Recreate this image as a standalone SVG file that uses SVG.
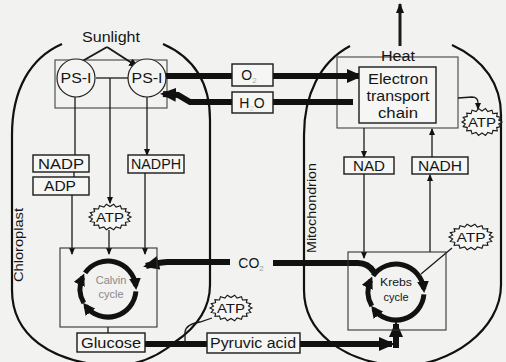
<svg xmlns="http://www.w3.org/2000/svg" width="506" height="362" viewBox="0 0 506 362">
<defs>
<style>
text{font-family:"Liberation Sans",Arial,sans-serif;fill:#151515}
.lbl{font-size:14px;text-anchor:middle}
.sm{font-size:12px;text-anchor:middle}
.box{fill:#f6f6f4;stroke:#1a1a1a;stroke-width:1.4}
.frame{fill:none;stroke:#444;stroke-width:1.1}
.thin{fill:none;stroke:#1a1a1a;stroke-width:1.3}
.thick{fill:none;stroke:#111;stroke-width:6}
.cyc{fill:none;stroke:#111;stroke-width:5}
.memb{fill:none;stroke:#111;stroke-width:2.2}
.burst{fill:#f6f6f4;stroke:#1a1a1a;stroke-width:1.1}
</style>
<marker id="big" viewBox="0 0 16 14" refX="13" refY="7" markerWidth="16" markerHeight="14" orient="auto" markerUnits="userSpaceOnUse"><path d="M0,0 L16,7 L0,14 z" fill="#111"/></marker>
<marker id="cy" viewBox="0 0 12 12" refX="8" refY="6" markerWidth="12" markerHeight="12" orient="auto" markerUnits="userSpaceOnUse"><path d="M0,0 L12,6 L0,12 z" fill="#111"/></marker>
<marker id="sa" viewBox="0 0 7 6" refX="6" refY="3" markerWidth="7" markerHeight="6" orient="auto" markerUnits="userSpaceOnUse"><path d="M0,0 L7,3 L0,6 z" fill="#111"/></marker>
<marker id="ma" viewBox="0 0 10 8" refX="9" refY="4" markerWidth="10" markerHeight="8" orient="auto" markerUnits="userSpaceOnUse"><path d="M0,0 L10,4 L0,8 z" fill="#111"/></marker>
<path id="star" d="M20,0 L16.7,1.8 L18.8,4.4 L14.7,5.3 L15.3,8.4 L10.9,8 L10,11.3 L5.8,9.9 L3.5,12.8 L0,10.5 L-3.5,12.8 L-5.8,9.9 L-10,11.3 L-10.9,8 L-15.3,8.4 L-14.7,5.3 L-18.8,4.4 L-16.7,1.8 L-20,0 L-16.7,-1.8 L-18.8,-4.4 L-14.7,-5.3 L-15.3,-8.4 L-10.9,-8 L-10,-11.3 L-5.8,-9.9 L-3.5,-12.8 L0,-10.5 L3.5,-12.8 L5.8,-9.9 L10,-11.3 L10.9,-8 L15.3,-8.4 L14.7,-5.3 L18.8,-4.4 L16.7,-1.8 Z"/>
</defs>
<rect width="506" height="362" fill="#f2f2f0"/>

<g id="chloroplast">
<path class="memb" d="M62,44 C30,58 12,90 12,135 L12,290 C12,335 50,362 110,366 C140,366 160,355 175,342 C200,325 210,305 210,285 L210,120 C210,85 195,58 163,44"/>
<text font-size="13" transform="translate(23,245) rotate(-90)" text-anchor="middle" textLength="74" lengthAdjust="spacingAndGlyphs">Chloroplast</text>
</g>
<g id="mitochondrion">
<path class="memb" d="M350,46 C320,62 304,95 304,135 L304,290 C304,330 340,362 400,366 C450,366 501,330 501,285 L501,115 C501,85 485,60 452,45"/>
<text font-size="13" transform="translate(316,208) rotate(-90)" text-anchor="middle" textLength="90" lengthAdjust="spacingAndGlyphs">Mitochondrion</text>
</g>

<g id="thylakoid"><rect class="frame" x="55" y="60" width="112" height="48"/></g>
<g id="cristae"><rect class="frame" x="337" y="57" width="121" height="71"/></g>

<g id="connectors">
<!-- sunlight -->
<path class="thin" style="stroke-width:2" d="M107,47 L72,67" marker-end="url(#ma)"/>
<path class="thin" style="stroke-width:2" d="M107,47 L138,67" marker-end="url(#ma)"/>
<!-- chloroplast thin lines -->
<path class="thin" d="M96,78 L128,78"/>
<path class="thin" d="M110,78 L110,203" marker-end="url(#sa)"/>
<path class="thin" d="M109,230 L109,254" marker-end="url(#sa)"/>
<path class="thin" d="M75,97 L75,155"/>
<path class="thin" d="M74,172 L74,177"/>
<path class="thin" d="M72,195 L72,254" marker-end="url(#sa)"/>
<path class="thin" d="M147,97 L147,155" marker-end="url(#sa)"/>
<path class="thin" d="M145,173 L145,254" marker-end="url(#sa)"/>
<path class="thin" d="M108,327 L108,333"/>
<!-- O2 / H2O -->
<path class="thick" d="M165,76 L232,76"/>
<path class="thick" d="M273,76 L360,76" marker-end="url(#big)"/>
<path class="thick" d="M273,102 L353,102"/>
<path class="thick" d="M232,102 L190,102 L178,95 L163,94" marker-end="url(#big)"/>
<!-- CO2 -->
<path class="thick" d="M230,262 L168,262 C160,262 154,264 146,266" marker-end="url(#big)"/>
<path class="thick" d="M273,263 L358,263 Q368,263 374,272"/>
<!-- glucose / pyruvic -->
<path class="thick" d="M145,344 L207,344"/>
<path class="thick" d="M300,344 L392,344" marker-end="url(#big)"/>
<path class="thick" d="M396,348 L396,324" marker-end="url(#big)"/>
<path class="thin" d="M185,344 L185,332 Q186,324 200,322 L212,318"/>
<!-- mito thin lines -->
<path class="thin" d="M364,128 L364,157" marker-end="url(#sa)"/>
<path class="thin" d="M432,157 L432,129" marker-end="url(#sa)"/>
<path class="thin" d="M364,174 L364,258" marker-end="url(#sa)"/>
<path class="thin" d="M430,252 L430,175" marker-end="url(#sa)"/>
<path class="thin" d="M458,98 L472,97 Q478,97 478,103 L478,109" marker-end="url(#sa)"/>
<path class="thin" d="M452,248 L421,274"/>
<!-- heat -->
<path class="thin" style="stroke-width:3" d="M400,46 L400,4" marker-end="url(#ma)"/>
<!-- Calvin cycle arcs -->
<path class="cyc" d="M85.1,272.9 A28,28 0 0 1 135.8,286.1" marker-end="url(#cy)"/>
<path class="cyc" d="M135.9,291.4 A28,28 0 0 1 85.6,305.9" marker-end="url(#cy)"/>
<path class="cyc" d="M83.8,303 A28,28 0 0 1 82.6,277.2" marker-end="url(#cy)"/>
<!-- Krebs cycle arcs -->
<path class="cyc" d="M373.1,275.9 A28,28 0 0 1 423.8,289.1" marker-end="url(#cy)"/>
<path class="cyc" d="M423.9,294.4 A28,28 0 0 1 373.6,308.9" marker-end="url(#cy)"/>
<path class="cyc" d="M371.8,306 A28,28 0 0 1 370.6,280.2" marker-end="url(#cy)"/>
</g>

<g id="sunlight"><text class="lbl" x="111" y="42" textLength="58" lengthAdjust="spacingAndGlyphs">Sunlight</text></g>
<g id="ps1-left"><circle cx="76" cy="78" r="19" fill="#f4f4f2" stroke="#222" stroke-width="1.2"/><text class="lbl" x="76" y="83" textLength="31" lengthAdjust="spacingAndGlyphs">PS-I</text></g>
<g id="ps1-right"><circle cx="147" cy="78" r="19" fill="#f4f4f2" stroke="#222" stroke-width="1.2"/><text class="lbl" x="147" y="83" textLength="31" lengthAdjust="spacingAndGlyphs">PS-I</text></g>
<g id="o2"><rect class="box" x="232" y="64" width="41" height="22"/><text class="lbl" x="249" y="80">O<tspan font-size="8" dy="3" fill="#aaa">2</tspan></text></g>
<g id="h2o"><rect class="box" x="232" y="92" width="41" height="21"/><text class="lbl" x="252" y="108">H<tspan font-size="8" dy="3" fill="#ccc">2</tspan><tspan dy="-3">O</tspan></text></g>
<g id="nadp"><rect class="box" x="33" y="155" width="56" height="17"/><text class="lbl" x="61" y="169" textLength="46" lengthAdjust="spacingAndGlyphs">NADP</text></g>
<g id="adp"><rect class="box" x="33" y="177" width="56" height="18"/><text class="lbl" x="60" y="191" textLength="32" lengthAdjust="spacingAndGlyphs">ADP</text></g>
<g id="nadph"><rect class="box" x="128" y="155" width="56" height="18"/><text class="lbl" x="156" y="169" textLength="50" lengthAdjust="spacingAndGlyphs">NADPH</text></g>
<g id="atp1"><use href="#star" class="burst" transform="translate(110,217) scale(1.05,1)"/><text class="sm" x="110" y="222" font-size="13" textLength="28" lengthAdjust="spacingAndGlyphs">ATP</text></g>
<g id="calvin"><rect class="frame" x="60" y="248" width="97" height="79" style="stroke:#333"/><text x="111" y="284" font-size="11" text-anchor="middle" style="fill:#888">Calvin</text><text x="111" y="298" font-size="11" text-anchor="middle" style="fill:#888">cycle</text></g>
<g id="glucose"><rect class="box" x="77" y="333" width="68" height="19"/><text class="lbl" x="111" y="348" textLength="60" lengthAdjust="spacingAndGlyphs">Glucose</text></g>
<g id="co2"><text class="lbl" x="251" y="268" text-anchor="middle">CO<tspan font-size="8" dy="3" fill="#999">2</tspan></text></g>
<g id="atp2"><use href="#star" class="burst" transform="translate(231,308) scale(1.05,1)"/><text class="sm" x="231" y="313" font-size="13" textLength="28" lengthAdjust="spacingAndGlyphs">ATP</text></g>
<g id="pyruvic"><rect class="box" x="207" y="333" width="93" height="20"/><text class="lbl" x="253" y="348" textLength="86" lengthAdjust="spacingAndGlyphs">Pyruvic acid</text></g>
<g id="heat"><text class="lbl" x="398" y="61" textLength="34" lengthAdjust="spacingAndGlyphs">Heat</text></g>
<g id="etc"><rect class="box" x="359" y="67" width="77" height="56"/><text class="lbl" x="398" y="84" textLength="60" lengthAdjust="spacingAndGlyphs">Electron</text><text class="lbl" x="398" y="101" textLength="63" lengthAdjust="spacingAndGlyphs">transport</text><text class="lbl" x="398" y="118" textLength="40" lengthAdjust="spacingAndGlyphs">chain</text></g>
<g id="atp3"><use href="#star" class="burst" transform="translate(482,122) scale(1,1.05)"/><text class="sm" x="482" y="127" font-size="13" textLength="28" lengthAdjust="spacingAndGlyphs">ATP</text></g>
<g id="nad"><rect class="box" x="344" y="157" width="50" height="17"/><text class="lbl" x="369" y="171" textLength="32" lengthAdjust="spacingAndGlyphs">NAD</text></g>
<g id="nadh"><rect class="box" x="412" y="157" width="56" height="17"/><text class="lbl" x="440" y="171" textLength="44" lengthAdjust="spacingAndGlyphs">NADH</text></g>
<g id="krebs"><rect class="frame" x="348" y="252" width="98" height="78" style="stroke:#333"/><text x="396" y="286" font-size="11" text-anchor="middle" textLength="32" lengthAdjust="spacingAndGlyphs">Krebs</text><text x="396" y="301" font-size="11" text-anchor="middle">cycle</text></g>
<g id="atp4"><use href="#star" class="burst" transform="translate(471,237) scale(1.1,1)"/><text class="sm" x="471" y="242" font-size="13" textLength="29" lengthAdjust="spacingAndGlyphs">ATP</text></g>
</svg>
